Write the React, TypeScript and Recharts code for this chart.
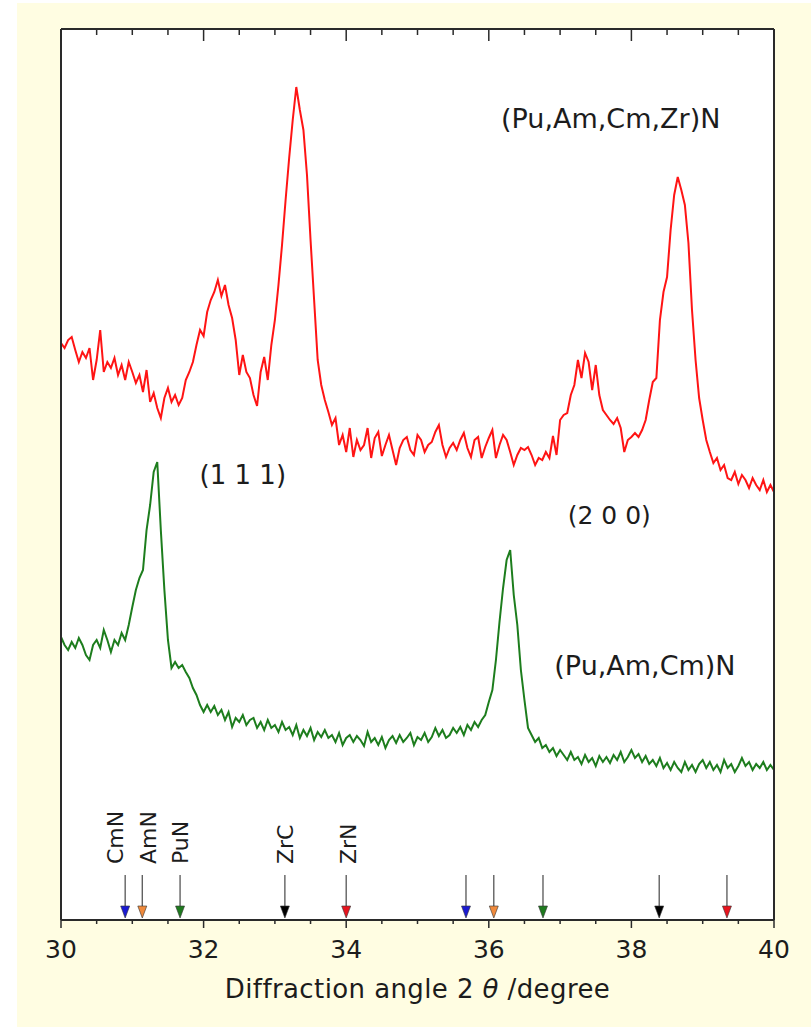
import {
  ComposedChart,
  Line,
  XAxis,
  YAxis,
  CartesianGrid,
  ReferenceDot,
  Label,
} from "recharts";

// measurement grid, degrees 2-theta
const ANGLE_START = 30;
const ANGLE_STEP = 0.05;

// (Pu,Am,Cm,Zr)N counts (a.u.)
const zrNitride = [
  577, 572, 580, 583, 570, 558, 568, 562, 572, 540,
  560, 590, 548, 558, 552, 562, 545, 555, 540, 558,
  548, 537, 545, 528, 550, 518, 527, 512, 502, 522,
  532, 518, 525, 515, 522, 540, 548, 558, 575, 590,
  584, 608, 620, 628, 640, 624, 635, 615, 602, 580,
  545, 565, 548, 542, 525, 514, 548, 563, 540, 575,
  600, 635, 675, 720, 762, 800, 833, 810, 790, 745,
  680, 620, 560, 535, 520, 508, 495, 502, 475, 485,
  468, 492, 463, 480, 470, 475, 492, 462, 482, 488,
  464, 475, 485, 470, 455, 472, 480, 483, 470, 465,
  485, 480, 468, 475, 478, 488, 495, 475, 463, 472,
  477, 470, 480, 487, 472, 463, 480, 483, 462, 473,
  482, 490, 462, 475, 485, 480, 468, 455, 465, 472,
  470, 473, 465, 455, 462, 460, 468, 462, 484, 465,
  500, 505, 507, 525, 535, 560, 542, 567, 558, 530,
  555, 525, 510, 505, 500, 496, 502, 492, 468, 480,
  483, 487, 483, 490, 500, 520, 538, 542, 600, 628,
  643, 690, 725, 743, 730, 715, 677, 610, 560, 522,
  500, 480, 468, 457, 462, 450, 455, 442, 440, 448,
  436, 445, 440, 432, 442, 435, 430, 440, 428, 435,
  428,
];

// (Pu,Am,Cm)N counts (a.u.)
const plainNitride = [
  283, 275, 270, 278, 272, 282, 275, 265, 260, 275,
  280, 272, 290, 280, 268, 280, 275, 287, 280, 295,
  313, 330, 342, 350, 390, 415, 448, 458, 390, 330,
  280, 252, 258, 252, 255, 248, 242, 232, 225, 215,
  208, 215, 208, 214, 205, 210, 200, 208, 193, 202,
  198, 205, 195, 200, 202, 192, 198, 190, 200, 192,
  195, 188, 198, 190, 193, 185, 195, 182, 190, 184,
  192, 180, 188, 183, 190, 182, 185, 178, 187, 175,
  182, 185, 178, 184, 180, 174, 188, 178, 182, 175,
  183, 172, 180, 184, 177, 185, 178, 182, 187, 175,
  183, 180, 187, 178, 183, 192, 184, 190, 182, 185,
  192, 187, 193, 185, 195, 190, 198, 193, 200, 205,
  218, 230, 260, 298, 332, 360, 370, 325, 295, 250,
  220, 192, 185, 178, 182, 172, 175, 168, 172, 164,
  170, 165, 160, 168, 160, 163, 156, 165, 158, 162,
  154, 164, 158, 163, 157, 165, 160, 168, 158, 163,
  170, 162, 166, 158, 164, 156, 160, 154, 162, 152,
  157, 150, 158, 152, 148, 158, 150, 155, 148, 156,
  160, 152, 158, 150, 155, 148, 160, 152, 156, 148,
  154, 162, 154, 158, 150, 156, 152, 158, 150, 155,
  150,
];

const majorTicks = [30, 32, 34, 36, 38, 40];
const allTicks = [
  30, 30.5, 31, 31.5, 32, 32.5, 33, 33.5, 34, 34.5, 35,
  35.5, 36, 36.5, 37, 37.5, 38, 38.5, 39, 39.5, 40,
];

// reference peak positions
const phases = ["CmN", "AmN", "PuN", "ZrC", "ZrN"];
const peaks111 = [30.9, 31.14, 31.67, 33.14, 34.0];
const peaks200 = [35.68, 36.07, 36.76, 38.39, 39.34];
const ARROW_LEVEL = 45;

const phaseColor: Record<string, string> = {
  CmN: "#1a1ad2",
  AmN: "#f08a3c",
  PuN: "#1e7a1e",
  ZrC: "#000000",
  ZrN: "#e8141e",
};
const labelShift: Record<string, number> = {
  CmN: -2,
  AmN: 14,
  PuN: 8,
  ZrC: 8,
  ZrN: 10,
};

const FONT = "'DejaVu Sans', sans-serif";
const INK = "#1c1c1c";
const FRAME = "#2a2a2a";

const rows = zrNitride.map((v, i) => ({
  angle: +(ANGLE_START + i * ANGLE_STEP).toFixed(2),
  zr: v,
  plain: plainNitride[i],
}));

function BottomTick({ x, y, payload }: any) {
  const major = majorTicks.includes(payload.value);
  return (
    <g>
      <line x1={x} x2={x} y1={y} y2={y + (major ? 8 : 4)} stroke={FRAME} strokeWidth={1.5} />
      {major && (
        <text x={x} y={y + 38} textAnchor="middle" fontSize={25} fill={INK} fontFamily={FONT}>
          {payload.value}
        </text>
      )}
    </g>
  );
}

function TopTick({ x, y, payload }: any) {
  const major = majorTicks.includes(payload.value);
  return <line x1={x} x2={x} y1={y} y2={y + (major ? 12 : 6)} stroke={FRAME} strokeWidth={1.5} />;
}

function AxisTitle({ viewBox }: any) {
  const cx = viewBox.x + viewBox.width / 2;
  return (
    <text x={cx} y={viewBox.y + 78} textAnchor="middle" fontSize={26} fill={INK} fontFamily={FONT} letterSpacing={0.4}>
      Diffraction angle 2 <tspan fontStyle="italic">θ</tspan> /degree
    </text>
  );
}

function arrowShape(phase: string, withLabel: boolean) {
  return (p: any) => {
    const { cx, cy } = p;
    const col = phaseColor[phase];
    return (
      <g>
        <line x1={cx} x2={cx} y1={cy} y2={cy + 33} stroke="#555" strokeWidth={1.3} />
        <path
          d={`M${cx - 4.5},${cy + 31} L${cx + 4.5},${cy + 31} L${cx},${cy + 43} Z`}
          fill={col}
          stroke="#333"
          strokeWidth={0.6}
        />
        {withLabel && (
          <text
            x={cx + labelShift[phase]}
            y={cy - 11}
            transform={`rotate(-90 ${cx + labelShift[phase]} ${cy - 11})`}
            fontSize={22}
            fill={INK}
            fontFamily={FONT}
          >
            {phase}
          </text>
        )}
      </g>
    );
  };
}

function Note({ x, y, text, size }: { x: number; y: number; text: string; size: number }) {
  return (
    <ReferenceDot key={text} x={x} y={y} r={1} fill="none" stroke="none" xAxisId="b" yAxisId="l" ifOverflow="visible">
      <Label value={text} position="center" fontSize={size} fill={INK} fontFamily={FONT} />
    </ReferenceDot>
  );
}

export default function App() {
  return (
    <div style={{ position: "absolute", left: 0, top: 0, width: 811, height: 1027, background: "#fff" }}>
      <div style={{ position: "absolute", left: 17, top: 3, right: 0, bottom: 0, background: "#fffde2" }} />
      <div style={{ position: "absolute", left: 0, top: 0 }}>
        <ComposedChart
          width={811}
          height={1027}
          data={rows}
          margin={{ top: 28, right: 36, bottom: 47, left: 60 }}
        >
          <CartesianGrid horizontal={false} vertical={false} fill="#fff" xAxisId="b" yAxisId="l" />
          <XAxis
            xAxisId="b"
            dataKey="angle"
            type="number"
            domain={[30, 40]}
            ticks={allTicks}
            interval={0}
            height={60}
            tickSize={0}
            tickMargin={0}
            tickLine={false}
            axisLine={{ stroke: FRAME, strokeWidth: 2 }}
            tick={BottomTick}
            allowDataOverflow
          >
            <Label content={AxisTitle} />
          </XAxis>
          <XAxis
            xAxisId="t"
            orientation="top"
            dataKey="angle"
            type="number"
            domain={[30, 40]}
            ticks={allTicks}
            interval={0}
            height={1}
            tickSize={0}
            tickMargin={0}
            tickLine={false}
            axisLine={{ stroke: FRAME, strokeWidth: 2 }}
            tick={TopTick}
            allowDataOverflow
          />
          <YAxis
            yAxisId="l"
            type="number"
            domain={[0, 891]}
            width={1}
            tick={false}
            tickLine={false}
            axisLine={{ stroke: FRAME, strokeWidth: 2 }}
            allowDataOverflow
          />
          <YAxis
            yAxisId="r"
            orientation="right"
            type="number"
            domain={[0, 891]}
            width={1}
            tick={false}
            tickLine={false}
            axisLine={{ stroke: FRAME, strokeWidth: 2 }}
            allowDataOverflow
          />
          <Line
            xAxisId="b"
            yAxisId="l"
            type="linear"
            dataKey="zr"
            stroke="#ff1414"
            strokeWidth={2}
            dot={false}
            isAnimationActive={false}
          />
          <Line
            xAxisId="b"
            yAxisId="l"
            type="linear"
            dataKey="plain"
            stroke="#1d7d1d"
            strokeWidth={2}
            dot={false}
            isAnimationActive={false}
          />
          {phases.map((ph, i) => (
            <ReferenceDot
              key={"a" + ph}
              xAxisId="b"
              yAxisId="l"
              x={peaks111[i]}
              y={ARROW_LEVEL}
              ifOverflow="visible"
              shape={arrowShape(ph, true)}
            />
          ))}
          {phases.map((ph, i) => (
            <ReferenceDot
              key={"b" + ph}
              xAxisId="b"
              yAxisId="l"
              x={peaks200[i]}
              y={ARROW_LEVEL}
              ifOverflow="visible"
              shape={arrowShape(ph, false)}
            />
          ))}
          {Note({ x: 37.71, y: 802, text: "(Pu,Am,Cm,Zr)N", size: 27 })}
          {Note({ x: 32.55, y: 445, text: "(1 1 1)", size: 26 })}
          {Note({ x: 37.69, y: 405, text: "(2 0 0)", size: 25 })}
          {Note({ x: 38.19, y: 255, text: "(Pu,Am,Cm)N", size: 27 })}
        </ComposedChart>
      </div>
    </div>
  );
}
